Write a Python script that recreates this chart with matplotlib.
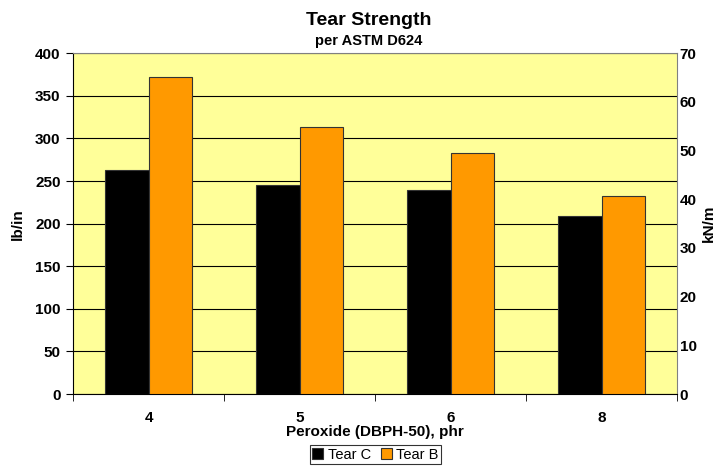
import numpy as np
import matplotlib.pyplot as plt

plt.rcParams['font.family'] = ['Liberation Sans', 'DejaVu Sans']

categories = ['4', '5', '6', '8']
tear_c = [263, 245, 240, 209]
tear_b = [372, 313, 283, 232]

fig = plt.figure(figsize=(7.25, 4.66), dpi=100)
ax = fig.add_axes([0.1007, 0.1545, 0.8331, 0.7311])
ax.set_facecolor('#FFFF99')

x = np.arange(len(categories))
w = 0.29
ax.bar(x - w/2, tear_c, w, color='black', edgecolor='#333333', linewidth=0.8, label='Tear C', zorder=3)
ax.bar(x + w/2, tear_b, w, color='#FF9900', edgecolor='#333333', linewidth=0.8, label='Tear B', zorder=3)

ax.set_xlim(-0.5, len(categories) - 0.5)
ax.set_ylim(0, 400)
ax.set_yticks(np.arange(0, 401, 50))
ax.yaxis.grid(True, color='black', linewidth=0.8, zorder=1)
ax.set_axisbelow(True)

ax.set_xticks(x)
ax.set_xticklabels(categories, fontsize=11, fontweight='bold')
ax.set_xticks(np.arange(-0.5, len(categories), 1), minor=True)
ax.tick_params(axis='x', which='major', length=0, pad=12.5)
ax.tick_params(axis='x', which='minor', length=5, direction='out', color='black')
ax.tick_params(axis='y', length=5, direction='out', labelsize=11, color='black', pad=4)
for lbl in ax.get_yticklabels():
    lbl.set_fontweight('bold')

for s in ['top', 'right']:
    ax.spines[s].set_color('#808080')
ax.spines['left'].set_color('black')
ax.spines['bottom'].set_color('black')

ax.set_xlabel('Peroxide (DBPH-50), phr', fontsize=11, fontweight='bold', labelpad=0)
ax.set_ylabel('lb/in', fontsize=11, fontweight='bold', labelpad=7)

ax2 = ax.twinx()
ax2.set_ylim(0, 70)
ax2.set_yticks(np.arange(0, 71, 10))
ax2.tick_params(axis='y', length=0, labelsize=11, pad=2)
for lbl in ax2.get_yticklabels():
    lbl.set_fontweight('bold')
for s in ax2.spines.values():
    s.set_visible(False)
ax2.set_ylabel('kN/m', fontsize=11, fontweight='bold', labelpad=4)

fig.text(0.509, 0.957, 'Tear Strength', ha='center', va='center', fontsize=14, fontweight='bold')
fig.text(0.509, 0.913, 'per ASTM D624', ha='center', va='center', fontsize=10.5, fontweight='bold')

leg = ax.legend(loc='center', bbox_to_anchor=(0.518, 0.0245), bbox_transform=fig.transFigure,
                ncol=2, frameon=True, fancybox=False, fontsize=10.5, handlelength=0.75,
                handleheight=0.75, handletextpad=0.3, columnspacing=0.7, borderpad=0.15,
                borderaxespad=0)
leg.get_frame().set_edgecolor('black')
leg.get_frame().set_linewidth(0.8)

fig.savefig('out.png', dpi=100)
